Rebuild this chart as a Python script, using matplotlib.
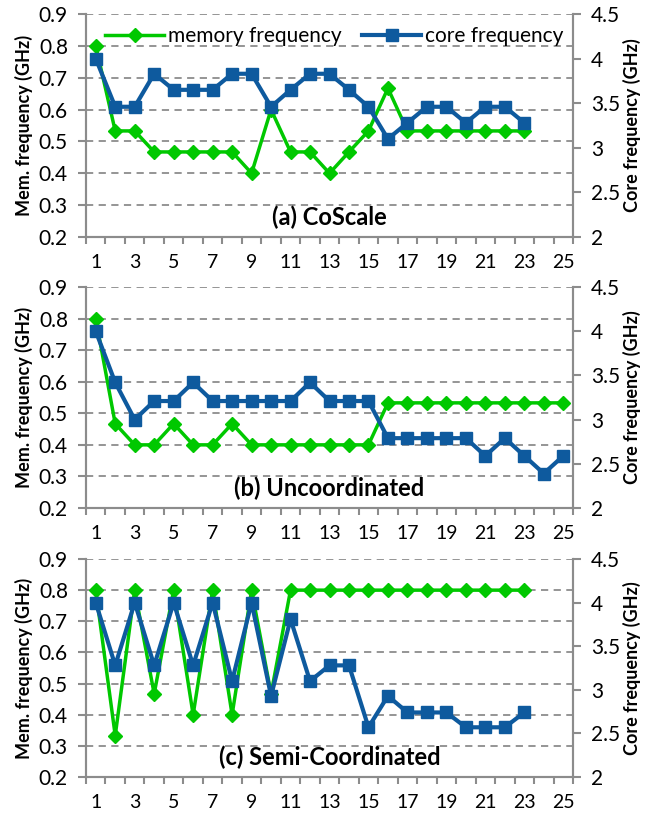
import matplotlib
matplotlib.use('Agg')
import matplotlib.pyplot as plt
import numpy as np

plt.rcParams['font.family'] = ['Lato', 'DejaVu Sans']

# ── data ───────────────────────────────────────────────────────────────────────
mem_a = [0.8, 0.533, 0.533, 0.467, 0.467, 0.467, 0.467, 0.467, 0.4, 0.6,
         0.467, 0.467, 0.4, 0.467, 0.533, 0.667, 0.533, 0.533, 0.533, 0.533,
         0.533, 0.533, 0.533]
core_a = [4.0, 3.46, 3.46, 3.83, 3.65, 3.65, 3.65, 3.83, 3.83, 3.46,
          3.65, 3.83, 3.83, 3.65, 3.46, 3.1, 3.28, 3.46, 3.46, 3.28,
          3.46, 3.46, 3.28]

mem_b = [0.8, 0.467, 0.4, 0.4, 0.467, 0.4, 0.4, 0.467, 0.4, 0.4,
         0.4, 0.4, 0.4, 0.4, 0.4, 0.533, 0.533, 0.533, 0.533, 0.533,
         0.533, 0.533, 0.533, 0.533, 0.533]
core_b = [4.0, 3.42, 3.0, 3.21, 3.21, 3.42, 3.21, 3.21, 3.21, 3.21,
          3.21, 3.42, 3.21, 3.21, 3.21, 2.79, 2.79, 2.79, 2.79, 2.79,
          2.59, 2.79, 2.59, 2.39, 2.59]

mem_c = [0.8, 0.333, 0.8, 0.467, 0.8, 0.4, 0.8, 0.4, 0.8, 0.467,
         0.8, 0.8, 0.8, 0.8, 0.8, 0.8, 0.8, 0.8, 0.8, 0.8,
         0.8, 0.8, 0.8]
core_c = [4.0, 3.28, 4.0, 3.28, 4.0, 3.28, 4.0, 3.1, 4.0, 2.93,
          3.81, 3.1, 3.28, 3.28, 2.57, 2.93, 2.74, 2.74, 2.74, 2.57,
          2.57, 2.57, 2.74]

titles = ['(a) CoScale', '(b) Uncoordinated', '(c) Semi-Coordinated']
mem_ticks = [0.2, 0.3, 0.4, 0.5, 0.6, 0.7, 0.8, 0.9]
core_ticks = [2, 2.5, 3, 3.5, 4, 4.5]
core_tick_labels = ['2', '2.5', '3', '3.5', '4', '4.5']
x_labels = list(range(1, 26, 2))

GREEN = '#00C800'
BLUE = '#0E5A9E'
GREY = '#8C8C8C'

fig = plt.figure(figsize=(6.51, 8.17), dpi=100)

# axes boxes in figure fractions (left, bottom, width, height)
boxes = [
    (86 / 651, 1 - 237 / 817, 487 / 651, 223 / 817),
    (86 / 651, 1 - 508 / 817, 487 / 651, 221 / 817),
    (86 / 651, 1 - 777 / 817, 487 / 651, 218 / 817),
]
panels = [(mem_a, core_a), (mem_b, core_b), (mem_c, core_c)]

for i, (box, (mem, core)) in enumerate(zip(boxes, panels)):
    ax = fig.add_axes(box)
    ax2 = ax.twinx()

    xm = np.arange(1, len(mem) + 1)
    xc = np.arange(1, len(core) + 1)

    ax.set_ylim(0.2, 0.9)
    ax.set_yticks(mem_ticks)
    ax.set_yticklabels([f'{t:.1f}' for t in mem_ticks], fontsize=15)
    ax.set_xlim(0.5, 25.5)
    ax.set_xticks(x_labels)
    ax.set_xticklabels([str(v) for v in x_labels], fontsize=14)
    ax.set_xticks(np.arange(0.5, 26, 1), minor=True)
    ax.tick_params(axis='x', which='major', length=0, pad=12)
    ax.tick_params(axis='x', which='minor', length=5, width=1.5, color=GREY, direction='out')
    ax.tick_params(axis='y', length=6, width=1.5, color=GREY, direction='out', pad=7)
    ax.yaxis.grid(True, linestyle=(0, (4, 3)), color=GREY, linewidth=1.3)
    ax.set_axisbelow(True)

    ax2.set_ylim(2, 4.5)
    ax2.set_yticks(core_ticks)
    ax2.set_yticklabels(core_tick_labels, fontsize=15)
    ax2.tick_params(axis='y', length=6, width=1.5, color=GREY, direction='out', pad=7)

    for a in (ax, ax2):
        a.spines['top'].set_visible(False)
        for s in ('left', 'right', 'bottom'):
            a.spines[s].set_color(GREY)
            a.spines[s].set_linewidth(1.5)

    ax.plot(xm, mem, color=GREEN, lw=2.5, marker='D', ms=7,
            label='memory frequency', zorder=3)
    ax2.plot(xc, core, color=BLUE, lw=3, marker='s', ms=8.5,
             label='core frequency', zorder=3)

    ax.set_ylabel('Mem. frequency (GHz)', fontsize=13, fontweight='bold', labelpad=4)
    ax2.set_ylabel('Core frequency (GHz)', fontsize=13, fontweight='bold', labelpad=2)

    ax.text(0.5, 0.09, titles[i], transform=ax.transAxes, ha='center', va='center',
            fontsize=17, fontweight='bold')

    if i == 0:
        h1, l1 = ax.get_legend_handles_labels()
        h2, l2 = ax2.get_legend_handles_labels()
        ax2.legend(h1 + h2, l1 + l2, loc='upper center', bbox_to_anchor=(0.51, 1.03),
                   ncol=2, frameon=False, fontsize=15, handlelength=2.8,
                   handletextpad=0.2, columnspacing=1.0)

fig.savefig('out.png', dpi=100)
